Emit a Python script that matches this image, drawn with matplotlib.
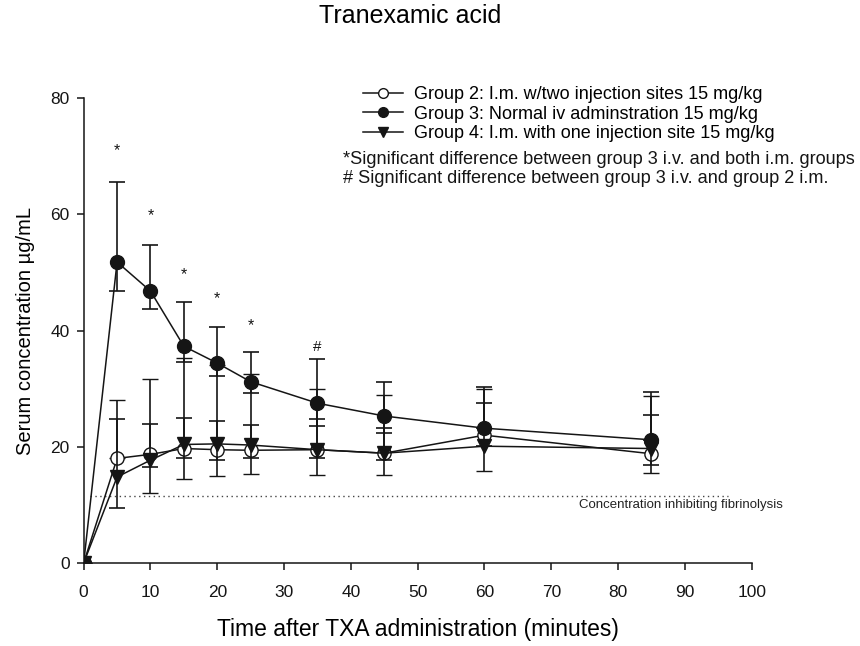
import numpy as np
import matplotlib.pyplot as plt
from matplotlib.lines import Line2D

plt.rcParams['font.family'] = ['Liberation Sans', 'DejaVu Sans']

# time points (minutes)
t = [0, 5, 10, 15, 20, 25, 35, 45, 60, 85]

# group 2: i.m. two injection sites
g2_mean = [0, 18.0, 18.7, 19.7, 19.5, 19.4, 19.5, 18.9, 22.0, 18.8]
g2_upper = [0, 28.1, 31.6, 35.2, 34.0, 32.5, 29.9, 28.9, 30.0, 28.7]
g2_lower = [0, 18.0, 12.1, 14.5, 14.9, 15.4, 15.1, 15.1, 15.8, 15.5]

# group 3: iv
g3_mean = [0, 51.8, 46.8, 37.3, 34.4, 31.2, 27.5, 25.3, 23.2, 21.2]
g3_upper = [0, 65.5, 54.8, 45.0, 40.7, 36.4, 35.1, 31.2, 30.3, 29.4]
g3_lower = [0, 46.8, 43.8, 34.6, 32.2, 29.2, 23.6, 22.3, 23.2, 21.2]

# group 4: i.m. one injection site
g4_mean = [0, 14.8, 17.7, 20.4, 20.5, 20.3, 19.5, 18.9, 20.1, 19.7]
g4_upper = [0, 24.7, 23.9, 25.0, 24.4, 23.7, 24.7, 23.2, 27.5, 25.4]
g4_lower = [0, 9.5, 16.6, 18.0, 17.8, 18.1, 18.1, 17.7, 20.1, 16.8]

# significance marks
star_x = [5, 10, 15, 20, 25]
star_y = [71, 59.8, 49.7, 45.5, 40.9]
hash_x = [35]
hash_y = [37.2]

fib_level = 11.5

col = '#151515'

fig = plt.figure(figsize=(8.6, 6.46), dpi=100)
ax = fig.add_axes([0.0973, 0.1285, 0.7767, 0.7195])


def yerr(mean, lo, hi):
    mean = np.array(mean)
    return [mean - np.array(lo), np.array(hi) - mean]


ax.errorbar(t, g2_mean, yerr=yerr(g2_mean, g2_lower, g2_upper), color=col, lw=1.1,
            marker='o', ms=9.5, mfc='white', mec=col, mew=1.0, capsize=6, elinewidth=1.2,
            capthick=1.2, zorder=3)
ax.errorbar(t, g4_mean, yerr=yerr(g4_mean, g4_lower, g4_upper), color=col, lw=1.1,
            marker='v', ms=10, mfc=col, mec=col, capsize=6, elinewidth=1.2,
            capthick=1.2, zorder=4)
ax.errorbar(t, g3_mean, yerr=yerr(g3_mean, g3_lower, g3_upper), color=col, lw=1.1,
            marker='o', ms=10, mfc=col, mec=col, capsize=6, elinewidth=1.2,
            capthick=1.2, zorder=5)

ax.plot([1, 96.5], [fib_level, fib_level], ls=(0, (1, 2.5)), color='#444444', lw=1.0)
ax.text(74.2, fib_level - 1.6, 'Concentration inhibiting fibrinolysis', fontsize=9.5,
        va='center', ha='left', color='#222222', clip_on=False)

for x, y in zip(star_x, star_y):
    ax.text(x, y, '*', ha='center', va='center', fontsize=11.5, color=col)
for x, y in zip(hash_x, hash_y):
    ax.text(x, y, '#', ha='center', va='center', fontsize=11, color=col)

ax.set_xlim(0, 100)
ax.set_ylim(0, 80)
ax.set_xticks(np.arange(0, 101, 10))
ax.set_yticks([0, 20, 40, 60, 80])
ax.spines['top'].set_visible(False)
ax.spines['right'].set_visible(False)
for s in ['left', 'bottom']:
    ax.spines[s].set_linewidth(1.1)
    ax.spines[s].set_color(col)
ax.tick_params(direction='out', length=5, width=1.1, labelsize=12.5, colors=col)
ax.tick_params(axis='x', pad=10.5)
ax.tick_params(axis='y', pad=5)
ax.margins(0)

ax.set_xlabel('Time after TXA administration (minutes)', fontsize=16.5, labelpad=13)
ax.set_ylabel('Serum concentration µg/mL', fontsize=14.5, labelpad=11)
fig.text(410 / 860, 1 - 16 / 646, 'Tranexamic acid', ha='center', va='center', fontsize=18)

handles = [
    Line2D([], [], color=col, lw=1.1, marker='o', ms=7, mfc='white', mec=col),
    Line2D([], [], color=col, lw=1.1, marker='o', ms=7, mfc=col, mec=col),
    Line2D([], [], color=col, lw=1.1, marker='v', ms=7, mfc=col, mec=col),
]
labels = [
    'Group 2: I.m. w/two injection sites 15 mg/kg',
    'Group 3: Normal iv adminstration 15 mg/kg',
    'Group 4: I.m. with one injection site 15 mg/kg',
]
fig.legend(handles, labels, loc='upper left', bbox_to_anchor=(363 / 860, 1 - 86 / 646),
           frameon=False, fontsize=13, handlelength=2.2, handletextpad=0.6,
           labelspacing=0.14, borderpad=0, borderaxespad=0)

fig.text(343 / 860, 1 - 160 / 646,
         '*Significant difference between group 3 i.v. and both i.m. groups',
         ha='left', va='center', fontsize=13.1, color=col)
fig.text(343 / 860, 1 - 178 / 646,
         '# Significant difference between group 3 i.v. and group 2 i.m.',
         ha='left', va='center', fontsize=13.1, color=col)

fig.savefig('out.png', dpi=100)
